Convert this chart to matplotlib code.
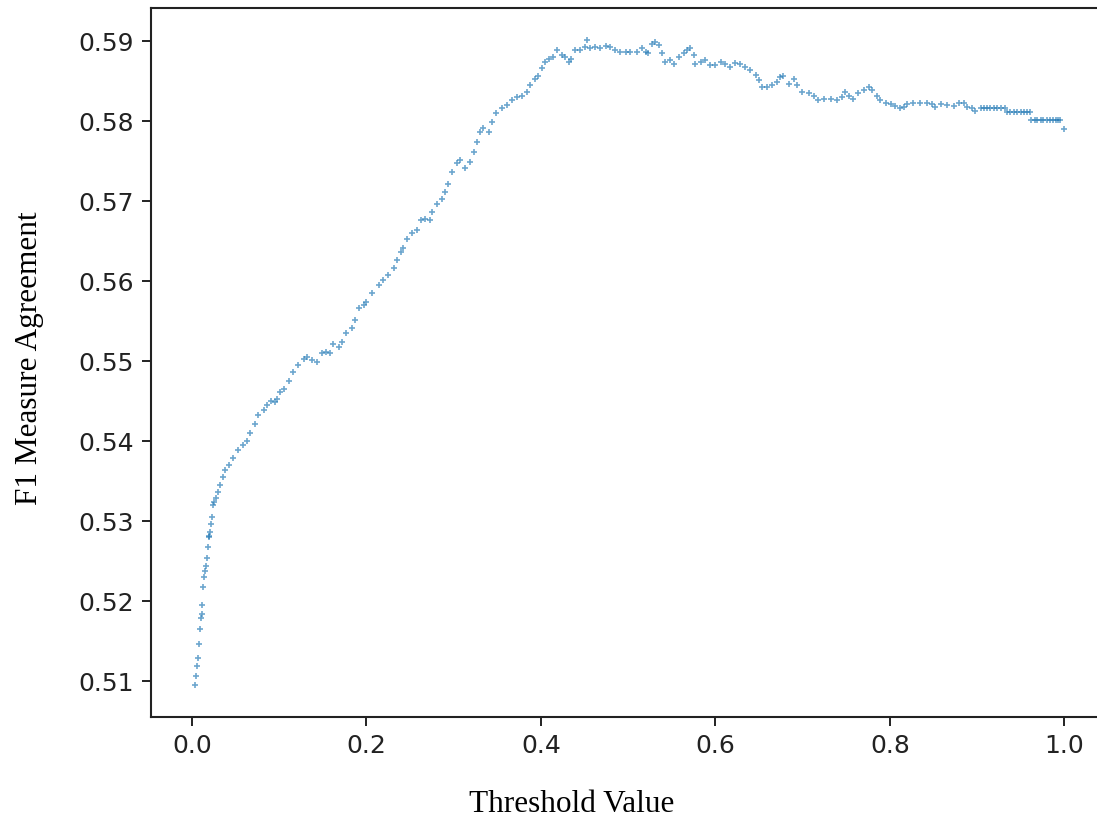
import matplotlib
matplotlib.use("Agg")
import matplotlib.pyplot as plt

threshold = [
    0.004, 0.005, 0.006, 0.007, 0.008, 0.009, 0.010, 0.011, 0.012, 0.013,
    0.014, 0.015, 0.016, 0.017, 0.018, 0.019, 0.020, 0.021, 0.022, 0.023,
    0.024, 0.025, 0.027, 0.030, 0.032, 0.035, 0.038,
    0.042, 0.047, 0.053, 0.059, 0.063, 0.067, 0.072, 0.076, 0.082, 0.086,
    0.091, 0.095, 0.097, 0.101, 0.105,
    0.111, 0.116, 0.122, 0.128, 0.132, 0.137, 0.143, 0.149, 0.154, 0.158,
    0.162, 0.168, 0.172, 0.177, 0.183, 0.187, 0.191, 0.197, 0.200, 0.206,
    0.214, 0.219, 0.225, 0.231, 0.235, 0.239, 0.242, 0.246, 0.252, 0.258,
    0.262, 0.267, 0.273, 0.275, 0.281, 0.286, 0.290, 0.294, 0.298, 0.304,
    0.307, 0.313, 0.319, 0.323, 0.327, 0.330, 0.334, 0.340, 0.344, 0.349,
    0.355, 0.361, 0.367, 0.372, 0.378, 0.384, 0.388, 0.393, 0.397, 0.401,
    0.405, 0.409, 0.414, 0.418, 0.424, 0.428, 0.432, 0.435, 0.439, 0.445,
    0.451, 0.453, 0.456, 0.462, 0.468, 0.474, 0.479, 0.485, 0.491, 0.497,
    0.502, 0.510, 0.516, 0.520, 0.523, 0.527, 0.531, 0.535, 0.539, 0.542,
    0.548, 0.552, 0.558, 0.564, 0.567, 0.571, 0.575, 0.577, 0.583, 0.588,
    0.594, 0.600, 0.606, 0.611, 0.617, 0.623, 0.628, 0.634, 0.640, 0.646,
    0.650, 0.653, 0.659, 0.665, 0.671, 0.674, 0.678, 0.684, 0.690, 0.693,
    0.699, 0.707, 0.713, 0.718, 0.724, 0.732, 0.739, 0.745, 0.749, 0.753,
    0.758, 0.764, 0.770, 0.776, 0.779, 0.785, 0.789, 0.795, 0.801, 0.806,
    0.812, 0.816, 0.820, 0.827, 0.835, 0.843, 0.848, 0.852, 0.858, 0.865,
    0.873, 0.879, 0.885, 0.888, 0.894, 0.898,
    0.904, 0.908, 0.911, 0.915, 0.919, 0.923, 0.927, 0.932,
    0.934, 0.938, 0.942, 0.946, 0.950, 0.954, 0.957, 0.961,
    0.962, 0.966, 0.969, 0.973, 0.976, 0.980, 0.984, 0.987, 0.990, 0.993, 0.995,
    0.999,
]

f1_agreement = [
    0.5095, 0.5107, 0.5119, 0.5129, 0.5147, 0.5165, 0.5179, 0.5184, 0.5195, 0.5218,
    0.5231, 0.5238, 0.5244, 0.5254, 0.5268, 0.5280, 0.5282, 0.5287, 0.5297, 0.5305,
    0.5320, 0.5324, 0.5329, 0.5337, 0.5346, 0.5355, 0.5364,
    0.5370, 0.5379, 0.5389, 0.5395, 0.5401, 0.5410, 0.5422, 0.5433, 0.5439, 0.5445,
    0.5451, 0.5449, 0.5453, 0.5462, 0.5466,
    0.5476, 0.5487, 0.5495, 0.5503, 0.5505, 0.5501, 0.5499, 0.5510, 0.5512, 0.5510,
    0.5522, 0.5518, 0.5524, 0.5535, 0.5541, 0.5551, 0.5566, 0.5570, 0.5574, 0.5585,
    0.5595, 0.5601, 0.5608, 0.5616, 0.5626, 0.5637, 0.5641, 0.5653, 0.5660, 0.5664,
    0.5676, 0.5678, 0.5676, 0.5687, 0.5697, 0.5703, 0.5712, 0.5722, 0.5737, 0.5748,
    0.5751, 0.5741, 0.5749, 0.5762, 0.5774, 0.5787, 0.5791, 0.5787, 0.5799, 0.5810,
    0.5816, 0.5820, 0.5826, 0.5830, 0.5832, 0.5837, 0.5845, 0.5853, 0.5857, 0.5866,
    0.5874, 0.5878, 0.5880, 0.5889, 0.5883, 0.5880, 0.5874, 0.5878, 0.5889, 0.5889,
    0.5893, 0.5901, 0.5891, 0.5893, 0.5891, 0.5894, 0.5893, 0.5889, 0.5887, 0.5887,
    0.5887, 0.5887, 0.5891, 0.5887, 0.5885, 0.5897, 0.5899, 0.5895, 0.5885, 0.5874,
    0.5876, 0.5872, 0.5880, 0.5885, 0.5889, 0.5891, 0.5883, 0.5872, 0.5874, 0.5876,
    0.5870, 0.5870, 0.5874, 0.5872, 0.5868, 0.5873, 0.5871, 0.5868, 0.5864, 0.5858,
    0.5851, 0.5843, 0.5843, 0.5845, 0.5849, 0.5855, 0.5857, 0.5847, 0.5853, 0.5845,
    0.5837, 0.5835, 0.5832, 0.5826, 0.5828, 0.5828, 0.5827, 0.5830, 0.5837, 0.5832,
    0.5828, 0.5835, 0.5839, 0.5843, 0.5839, 0.5832, 0.5827, 0.5823, 0.5822, 0.5819,
    0.5816, 0.5818, 0.5822, 0.5823, 0.5823, 0.5823, 0.5822, 0.5818, 0.5821, 0.5820,
    0.5819, 0.5823, 0.5823, 0.5818, 0.5816, 0.5813,
    0.5816, 0.5817, 0.5817, 0.5817, 0.5817, 0.5817, 0.5817, 0.5816,
    0.5811, 0.5811, 0.5811, 0.5811, 0.5811, 0.5811, 0.5811, 0.5811,
    0.5801, 0.5801, 0.5801, 0.5801, 0.5801, 0.5801, 0.5801, 0.5801, 0.5801, 0.5801, 0.5801,
    0.5790,
]

x_ticks = [0.0, 0.2, 0.4, 0.6, 0.8, 1.0]
y_ticks = [0.51, 0.52, 0.53, 0.54, 0.55, 0.56, 0.57, 0.58, 0.59]

W, H = 1097, 825
fig = plt.figure(figsize=(W / 100, H / 100), dpi=100)
ax = fig.add_axes([151 / W, 1 - 717 / H, 957 / W, 709 / H])

ax.scatter(threshold, f1_agreement, marker='+', s=16, linewidths=1.2,
           color='#1f77b4', alpha=0.65)

ax.set_xlim(-0.047, 1.050)
ax.set_ylim(0.50555, 0.59415)
ax.set_xticks(x_ticks)
ax.set_xticklabels([f"{t:.1f}" for t in x_ticks])
ax.set_yticks(y_ticks)
ax.set_yticklabels([f"{t:.2f}" for t in y_ticks])
ax.tick_params(axis='both', labelsize=18, length=6.5, width=1.4, pad=6,
               colors='#222222', labelcolor='#222222')
for sp in ax.spines.values():
    sp.set_linewidth(1.5)
    sp.set_color('#222222')
ax.spines['right'].set_visible(False)

fig.text(572 / W, 1 - 805 / H, 'Threshold Value', ha='center', va='center',
         fontsize=22.5, family=['Liberation Serif', 'DejaVu Serif'])
fig.text(30 / W, 1 - 358 / H, 'F1 Measure Agreement', ha='center', va='center',
         rotation=90, fontsize=22.5, family=['Liberation Serif', 'DejaVu Serif'])

fig.savefig('out.png', dpi=100)
